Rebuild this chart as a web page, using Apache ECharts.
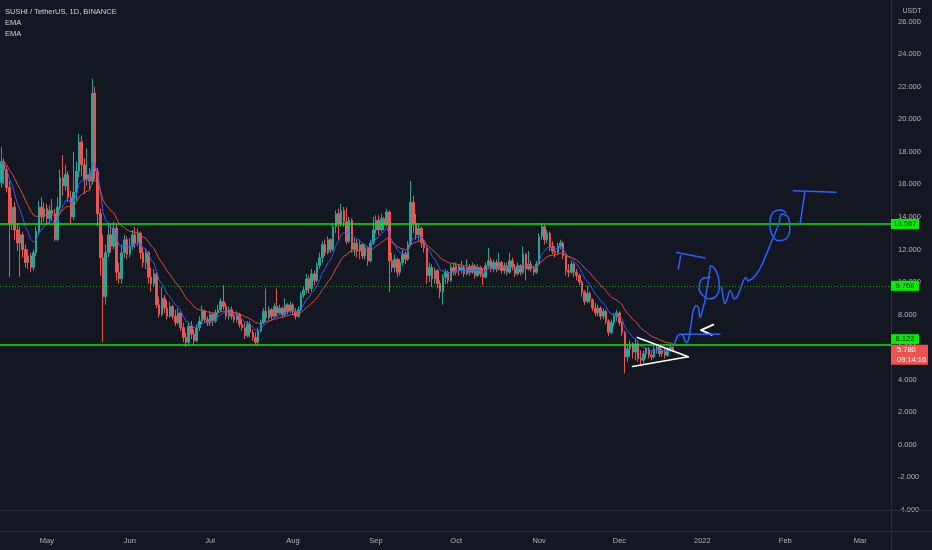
<!DOCTYPE html>
<html><head><meta charset="utf-8">
<script src="https://cdn.jsdelivr.net/npm/echarts@6/dist/echarts.min.js"></script>
<style>html,body{margin:0;padding:0;background:#131722;}#c{width:932px;height:550px;}</style>
</head><body><div id="c"></div>
<script>
// ---------- data ----------
const startDate = '2021-04-14';
const dayCount = 333;
const monthLabels = ['2022','Feb','Mar','Apr','May','Jun','Jul','Aug','Sep','Oct','Nov','Dec'];
const yTickMin = -4, yTickMax = 26, yTickStep = 2;
const firstOpen = 16.1;
const closes = [
17.4,16.9,15.8,13.6,14.6,13.2,12.4,12.9,12.0,11.2,
11.6,10.9,11.8,13.1,14.6,14.0,14.5,13.9,14.4,14.2,
12.6,14.6,16.4,15.9,16.6,15.2,14.0,15.5,16.8,18.6,
17.2,16.3,16.6,16.2,21.6,16.8,14.2,11.5,9.1,11.8,
12.9,12.2,13.3,10.6,10.2,11.8,12.6,11.7,12.2,12.9,
12.4,13.0,11.8,11.2,11.8,10.3,9.9,10.5,8.6,8.0,
9.0,8.4,7.9,8.5,7.9,7.5,8.1,7.2,6.6,6.3,
7.3,6.8,6.4,7.2,7.6,8.2,7.7,7.5,8.0,7.6,
8.1,8.3,8.8,8.5,7.9,8.3,7.9,7.7,8.0,7.4,
7.2,6.7,7.4,6.9,6.6,6.3,7.0,7.5,8.2,7.8,
8.3,7.9,8.5,8.1,8.4,8.0,8.6,8.2,8.6,8.2,
7.9,8.3,9.2,9.5,10.2,9.6,10.5,10.1,11.0,11.5,
12.3,11.8,12.6,12.0,13.4,14.2,13.6,14.4,13.7,12.5,
13.8,12.0,12.4,11.9,12.3,11.6,12.1,11.3,12.4,13.2,
13.8,13.2,13.9,13.5,14.3,11.3,10.9,11.4,10.6,11.2,
11.7,11.4,12.3,14.9,13.6,12.9,13.3,12.4,12.1,10.4,
10.9,10.2,10.7,9.9,9.4,10.3,10.6,10.1,10.9,10.6,
11.0,10.7,10.9,10.5,10.9,10.6,11.0,10.4,10.9,10.5,
10.3,11.0,11.3,10.8,11.2,10.8,11.2,10.7,11.0,10.6,
11.3,10.9,10.5,11.0,10.6,11.7,10.8,11.1,10.8,10.6,
11.1,12.8,13.4,12.6,13.0,12.2,11.9,11.8,12.2,12.4,
11.6,10.7,10.6,11.1,10.6,10.4,10.0,9.4,8.8,9.3,
8.9,8.4,8.1,8.4,7.9,8.2,7.6,6.9,7.5,7.9,
8.1,7.5,6.9,5.4,5.9,6.2,5.7,6.2,5.3,5.2,
5.6,5.9,5.5,5.4,5.9,6.0,5.6,5.8,5.5,5.9,
6.0,5.78
];
const highs = [
18.3,17.6,17.1,16.2,15.2,14.9,13.6,13.4,13.1,12.3,
12.0,11.8,12.0,13.4,15.0,15.2,14.9,14.8,14.7,15.1,
14.5,15.2,16.9,17.8,17.2,16.8,15.6,18.0,17.4,19.1,
19.0,17.6,18.2,17.0,22.5,22.0,17.0,14.5,12.9,12.3,
13.5,13.6,13.7,13.6,11.2,12.3,12.9,12.8,12.7,13.2,
13.4,13.3,13.1,12.1,12.0,11.9,10.9,10.8,10.6,9.1,
9.7,9.2,8.9,8.8,8.6,8.3,8.4,8.2,7.5,6.9,
7.5,7.6,7.1,7.4,7.9,8.55,8.3,7.9,8.2,8.1,
8.3,8.6,9.0,9.8,8.7,8.5,8.5,8.1,8.2,8.1,
7.7,7.5,7.6,7.6,7.1,6.9,7.2,7.7,8.4,9.6,
8.5,8.4,8.7,9.6,8.6,8.5,9.0,8.7,8.8,8.7,
8.4,8.5,9.4,9.7,10.5,10.4,10.8,10.7,11.2,11.8,
12.5,12.6,12.8,12.7,13.6,14.4,14.5,14.8,14.6,14.6,
14.0,13.9,12.7,12.6,12.6,12.4,12.3,12.2,12.6,14.0,
14.1,14.1,14.2,14.0,14.5,14.4,11.8,11.7,11.5,11.4,
12.0,11.9,12.5,16.2,15.3,14.2,13.6,13.4,12.6,12.2,
11.2,11.1,10.9,10.8,10.1,10.5,10.8,10.7,11.1,11.2,
11.2,11.1,11.3,11.0,11.4,11.1,11.2,11.1,11.1,11.0,
10.8,11.2,12.1,11.5,11.4,11.4,11.8,11.3,11.2,11.2,
11.8,11.5,11.1,11.2,11.1,12.2,11.8,11.9,11.3,11.0,
11.3,13.0,13.6,13.5,13.2,13.1,12.5,12.2,12.4,12.6,
12.5,11.8,11.1,11.3,11.2,10.8,10.5,10.1,9.5,9.8,
9.4,9.0,8.7,8.6,8.5,8.4,8.3,7.7,7.7,8.1,
8.3,8.2,7.6,7.0,6.2,6.4,6.3,6.5,6.4,5.8,
5.8,6.0,6.0,5.8,6.1,6.2,6.0,5.9,5.9,6.0,
6.1,6.05
];
const lows = [
15.8,16.0,15.5,10.3,13.2,12.6,11.9,10.3,11.5,10.9,
10.8,10.6,10.7,11.6,12.9,13.6,13.7,13.5,13.6,13.8,
12.5,12.5,14.4,15.3,15.6,14.9,13.6,13.8,15.0,16.4,
16.5,15.4,15.9,15.7,16.0,16.3,13.4,10.4,6.3,8.6,
11.5,11.8,12.0,10.1,9.9,9.9,11.5,11.4,11.5,12.0,
12.1,12.2,11.4,10.9,10.8,9.9,9.4,9.7,8.4,7.8,
7.9,8.1,7.7,7.8,7.7,7.3,7.4,7.0,6.3,6.0,
6.1,6.5,6.1,6.3,7.0,7.4,7.5,7.3,7.3,7.3,
7.5,7.9,8.2,8.3,7.7,7.7,7.7,7.5,7.5,7.2,
7.0,6.5,6.6,6.6,6.4,6.1,6.1,6.9,7.4,7.6,
7.7,7.7,7.8,7.9,8.0,7.8,7.9,8.0,8.1,8.0,
7.7,7.8,8.2,9.0,9.3,9.3,9.4,9.8,10.0,10.8,
11.2,11.6,11.7,11.8,11.9,13.0,12.6,13.4,13.4,12.3,
12.4,11.8,11.6,11.5,11.4,11.4,11.4,11.0,11.2,12.3,
13.0,12.9,13.1,13.2,13.4,9.4,10.6,10.6,10.3,10.4,
11.0,11.1,11.3,12.2,13.0,12.6,12.5,12.1,11.8,9.9,
10.0,9.7,9.9,9.6,9.0,8.6,9.9,9.9,10.0,10.4,
10.4,10.4,10.5,10.3,10.4,10.4,10.5,10.2,10.3,10.3,
9.8,10.2,10.9,10.6,10.6,10.6,10.7,10.5,10.5,10.4,
10.5,10.7,10.3,10.4,10.4,10.5,10.1,10.7,10.6,10.4,
10.5,11.0,12.6,12.3,12.4,11.9,11.7,11.5,11.7,12.0,
11.4,10.4,10.3,10.5,10.3,10.1,9.8,9.1,8.6,8.7,
8.7,8.2,7.9,7.9,7.7,7.7,7.4,6.7,6.8,7.3,
7.6,7.3,6.7,4.4,5.1,5.4,5.3,5.2,5.1,4.95,
5.0,5.3,5.3,5.2,5.3,5.6,5.4,5.4,5.3,5.4,
5.7,5.7
];
const emaFastPeriod = 9, emaSlowPeriod = 21;
const resistanceLevel = 13.567, midLevel = 9.768, supportLevel = 6.122;
const lastPrice = 5.780, countdownText = '09:14:16';
const titleText = 'SUSHI / TetherUS, 1D, BINANCE';
const currencyText = 'USDT';
// hand drawings, as [day index, price]
const triangleUpper = [[237.7,6.6],[256.7,5.41]];
const triangleLower = [[235.9,4.81],[256.7,5.41]];
const arrowMark = [[266.1,7.38],[261.5,7.05],[265.5,6.76]];
const penBaseLine = [[253.6,6.80],[268.6,6.80]];
const penStroke1 = [[251.7,6.19],[252.4,6.59],[253.6,6.80],[254.8,6.70],[255.9,6.29],[256.7,6.39],[257.3,6.90],[258.0,7.62],[258.6,8.24],[259.6,8.54],[260.5,8.44],[261.1,7.82],[261.7,8.03],[262.3,8.44],[263.0,8.85],[263.6,9.47],[264.2,10.08],[264.8,10.69],[265.1,11.00],[266.7,10.80],[268.0,10.28],[268.3,9.67],[267.3,9.16],[264.8,8.96],[262.3,9.16],[260.8,9.57],[261.1,9.98],[262.6,10.25],[264.8,10.28]];
const penStroke2 = [[269.2,9.67],[269.8,9.05],[270.4,8.68],[271.3,8.96],[272.3,9.47],[272.9,9.36],[273.8,8.96],[274.8,9.05],[276.0,9.47],[277.3,10.08],[278.3,10.28],[279.1,10.08],[280.4,10.18],[282.3,10.49],[284.1,11.00],[285.7,11.62],[287.2,12.23],[288.5,12.74],[289.7,13.20],[290.7,13.66],[291.6,14.18],[294.1,13.97],[294.7,13.26],[293.2,12.64],[290.3,12.54],[287.9,12.95],[287.2,13.56],[288.5,14.28],[291.6,14.43],[293.2,14.26]];
const penTopBar = [[296.0,15.61],[311.9,15.51]];
const penTopStem = [[300.3,15.51],[298.5,13.56]];
const penLeftBar = [[252.4,11.82],[263.0,11.48]];
const penLeftStem = [[253.9,11.62],[253.0,10.80]];

// ---------- build ----------
const dates = [];
{
  const d0 = new Date(startDate + 'T00:00:00Z');
  for (let i = 0; i < dayCount; i++) {
    const d = new Date(d0.getTime() + i * 86400000);
    dates.push(d.toISOString().slice(0, 10));
  }
}
const candles = closes.map((c, i) => {
  const o = i === 0 ? firstOpen : closes[i - 1];
  return [o, c, Math.min(lows[i], o, c), Math.max(highs[i], o, c)];
});
function ema(src, n) {
  const k = 2 / (n + 1); const out = []; let e = src[0];
  src.forEach((v, i) => { e = i === 0 ? v : v * k + e * (1 - k); out.push(+e.toFixed(4)); });
  return out;
}
const emaFast = ema(closes, emaFastPeriod);
const emaSlow = ema(closes, emaSlowPeriod);

const FONT = '"Liberation Sans", Arial, sans-serif';
const TXT = '#b2b5be';
const chart = echarts.init(document.getElementById('c'), null, {renderer: 'canvas'});

function drawLine(data, color, width) {
  return {type: 'line', xAxisIndex: 1, yAxisIndex: 0, data, showSymbol: false, symbol: 'none',
    smooth: 0.35, silent: true, z: 10, lineStyle: {color, width, cap: 'round', join: 'round'}};
}

chart.setOption({
  backgroundColor: '#131722',
  animation: false,
  grid: {left: 0, right: 41, top: 21.5, bottom: 40, outerBoundsMode: 'none', containLabel: false},
  xAxis: [{
    type: 'category', data: dates, boundaryGap: true,
    axisLine: {show: false}, axisTick: {show: false}, splitLine: {show: false},
    axisLabel: {
      color: TXT, fontSize: 7.5, fontFamily: FONT, margin: 27,
      interval: (idx, val) => val.slice(8) === '01',
      formatter: val => monthLabels[(+val.slice(5, 7)) - 1]
    }
  }, {
    type: 'value', min: -0.5, max: dayCount - 0.5, show: false
  }],
  yAxis: [{
    type: 'value', position: 'right', min: yTickMin, max: yTickMax, interval: yTickStep,
    axisLine: {show: false}, axisTick: {show: false}, splitLine: {show: false},
    axisLabel: {color: TXT, fontSize: 7.5, fontFamily: FONT, margin: 7, formatter: v => v.toFixed(3)}
  }],
  series: [
    {
      type: 'candlestick', xAxisIndex: 0, yAxisIndex: 0, data: candles, barWidth: 2,
      itemStyle: {color: '#26a69a', color0: '#ef5350', borderColor: '#26a69a', borderColor0: '#ef5350', borderWidth: 1},
      markLine: {
        symbol: 'none', silent: true, label: {show: false}, animation: false,
        data: [
          {yAxis: resistanceLevel, lineStyle: {color: '#00f000', width: 1.6, type: 'solid'}},
          {yAxis: midLevel, lineStyle: {color: 'rgba(0,220,0,0.65)', width: 1, type: [1, 2]}},
          {yAxis: supportLevel, lineStyle: {color: '#00f000', width: 1.6, type: 'solid'}}
        ]
      }
    },
    {type: 'line', data: emaFast, showSymbol: false, symbol: 'none', lineStyle: {color: '#2f5bff', width: 1}, z: 3, silent: true},
    {type: 'line', data: emaSlow, showSymbol: false, symbol: 'none', lineStyle: {color: '#e8463f', width: 1}, z: 3, silent: true},
    drawLine(triangleUpper, '#ffffff', 1.6),
    drawLine(triangleLower, '#ffffff', 1.6),
    Object.assign(drawLine(arrowMark, '#ffffff', 2), {smooth: false}),
    drawLine(penBaseLine, '#2962ff', 1.5),
    drawLine(penStroke1, '#2962ff', 1.5),
    drawLine(penStroke2, '#2962ff', 1.5),
    drawLine(penTopBar, '#2962ff', 1.5),
    drawLine(penTopStem, '#2962ff', 1.5),
    drawLine(penLeftBar, '#2962ff', 1.5),
    drawLine(penLeftStem, '#2962ff', 1.5)
  ]
});

const py = v => chart.convertToPixel({yAxisIndex: 0}, v);
const W = 932, H = 550, AX = 891;
function priceBox(value, text, dy) {
  const y = py(value) + dy;
  return [
    {type: 'rect', z: 100, shape: {x: AX, y: y - 5, width: 28, height: 10}, style: {fill: '#00f000'}},
    {type: 'text', z: 101, x: AX + 14, y: y, style: {text, fill: '#131722', font: '7.5px ' + FONT, align: 'center', verticalAlign: 'middle'}}
  ];
}
const lastY = py(lastPrice);
chart.setOption({
  graphic: [
    {type: 'line', z: 90, shape: {x1: AX + 0.5, y1: 0, x2: AX + 0.5, y2: H}, style: {stroke: '#2a2e39', lineWidth: 1}},
    {type: 'line', z: 90, shape: {x1: 0, y1: 510.5, x2: W, y2: 510.5}, style: {stroke: '#2a2e39', lineWidth: 1}},
    {type: 'line', z: 90, shape: {x1: 0, y1: 531.5, x2: W, y2: 531.5}, style: {stroke: '#2a2e39', lineWidth: 1}},
    {type: 'text', z: 100, x: 5, y: 12, style: {text: titleText, fill: '#d1d4dc', font: '7.5px ' + FONT, verticalAlign: 'middle'}},
    {type: 'text', z: 100, x: 5, y: 23, style: {text: 'EMA', fill: '#d1d4dc', font: '7.5px ' + FONT, verticalAlign: 'middle'}},
    {type: 'text', z: 100, x: 5, y: 33.5, style: {text: 'EMA', fill: '#d1d4dc', font: '7.5px ' + FONT, verticalAlign: 'middle'}},
    {type: 'text', z: 100, x: 912, y: 11, style: {text: currencyText, fill: TXT, font: '7px ' + FONT, align: 'center', verticalAlign: 'middle'}},
    ...priceBox(resistanceLevel, resistanceLevel.toFixed(3), 0),
    ...priceBox(midLevel, midLevel.toFixed(3), 0),
    ...priceBox(supportLevel, supportLevel.toFixed(3), -6),
    {type: 'rect', z: 100, shape: {x: AX, y: lastY - 6, width: 37, height: 20}, style: {fill: '#ef5350'}},
    {type: 'text', z: 101, x: AX + 6, y: lastY - 0.5, style: {text: lastPrice.toFixed(3), fill: '#ffffff', font: '7.5px ' + FONT, verticalAlign: 'middle'}},
    {type: 'text', z: 101, x: AX + 6, y: lastY + 9, style: {text: countdownText, fill: '#ffffff', font: '7.5px ' + FONT, verticalAlign: 'middle'}}
  ]
});
</script></body></html>
